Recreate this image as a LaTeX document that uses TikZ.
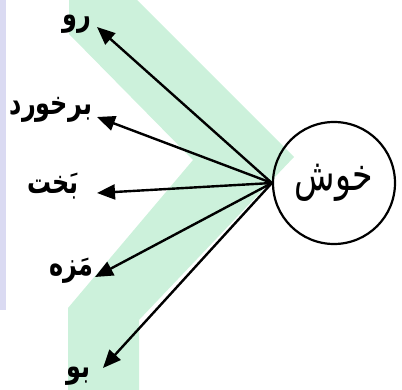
\documentclass[tikz,border=0pt]{standalone}
\usepackage{fontspec}
\usepackage{graphicx}
\usetikzlibrary{arrows.meta}
\TeXXeTstate=1
\newfontfamily\arabicfont[Script=Arabic]{DejaVu Sans}
\definecolor{bandgreen}{RGB}{204,241,219}
\definecolor{lavbar}{RGB}{218,218,242}
\newcommand{\fatxt}[1]{\scalebox{0.92}[1.25]{\beginR #1\endR}}
\tikzset{
  lbl/.style={font=\arabicfont\bfseries\fontsize{26}{30}\selectfont, inner sep=0pt},
  bigword/.style={circle, draw, line width=2.2pt, minimum size=122pt, inner sep=0pt,
    font=\arabicfont\fontsize{36}{40}\selectfont},
  arr/.style={line width=2.4pt, -{Triangle[length=18pt,width=15pt]}}
}
\begin{document}
\begin{tikzpicture}[x=1pt,y=-1pt]
\useasboundingbox (0,0) rectangle (402,390);
% background watermark
\fill[lavbar] (0,0) rectangle (6,310);
\fill[bandgreen] (69,0) -- (137,0) -- (294,157) -- (139,320) -- (139,390)
  -- (68,390) -- (68,308) -- (193,160) -- (69,34) -- cycle;
% central node
\node[bigword] (c) at (334,183) {\fatxt{خوش}};
% labels
\node[lbl] (l1) at (77,24) {\fatxt{رو}};
\node[lbl] (l2) at (51,110) {\fatxt{برخورد}};
\node[lbl] (l3) at (53,186) {\fatxt{بَخت}};
\node[lbl] (l4) at (71,271) {\fatxt{مَزه}};
\node[lbl] (l5) at (78,376) {\fatxt{بو}};
% arrow tips
\coordinate (t1) at (97,27);
\coordinate (t2) at (97,117);
\coordinate (t3) at (97,193);
\coordinate (t4) at (95,277);
\coordinate (t5) at (103,368);
\foreach \i in {1,...,5} \draw[arr] (c.west) -- (t\i);
\end{tikzpicture}
\end{document}
